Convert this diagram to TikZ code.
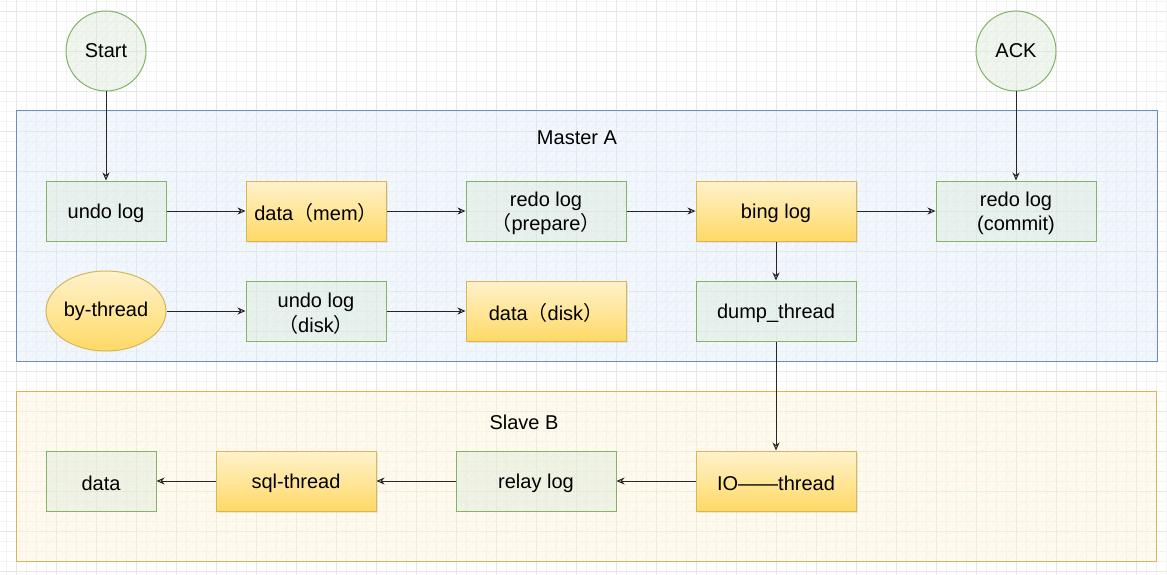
\documentclass[tikz,border=0pt]{standalone}
\usepackage{fontspec}
\setmainfont{Liberation Sans}
\newfontfamily\cjk{Noto Sans CJK SC}
\usetikzlibrary{arrows.meta,shapes.geometric,patterns.meta,shadows}
\newcommand\flp{{\cjk （}}
\newcommand\frp{{\cjk ）}}
\definecolor{gstroke}{HTML}{82B366}
\definecolor{gfill}{HTML}{D5E8D4}
\definecolor{ystroke}{HTML}{D6B656}
\definecolor{ytop}{HTML}{FFF2CC}
\definecolor{ybot}{HTML}{FFD966}
\definecolor{bstroke}{HTML}{6C8EBF}
\definecolor{bfill}{HTML}{DAE8FC}
\definecolor{ostroke}{HTML}{D6B656}
\definecolor{ofill}{HTML}{FFF2CC}
\definecolor{gridminor}{HTML}{F3F3F3}
\definecolor{gridmajor}{HTML}{E6E6E6}
\tikzset{
  every node/.style={font=\fontsize{20}{24.5}\selectfont, text=black, inner sep=0pt},
  hatchfill/.style 2 args={
    preaction={fill=#1, fill opacity=0.35},
    preaction={pattern={Lines[angle=45,distance=6pt,line width=0.5pt]}, pattern color=#2}},
  lowertext/.style={execute at begin node={\rule{0pt}{20pt}}},
  twolines/.style={label={[align=center, yshift=-2.5pt]center:#1}},
  greenbox/.style={rectangle, draw=gstroke, line width=1pt,
    hatchfill={gfill}{gstroke!18}, minimum height=60pt, align=center},
  yellowbox/.style={rectangle, draw=ystroke, line width=1pt,
    top color=ytop, bottom color=ybot, minimum height=60pt, align=center,
    drop shadow={shadow xshift=1.5pt, shadow yshift=-1.5pt, opacity=0.15}},
  greencircle/.style={circle, draw=gstroke, line width=1pt,
    hatchfill={gfill}{gstroke!18}, minimum size=80pt},
  yellowellipse/.style={ellipse, draw=ystroke, line width=1pt, top color=ytop, bottom color=ybot,
    minimum width=120pt, minimum height=80pt},
  conn/.style={draw=black!85, line width=1pt, -{Stealth[open,length=8pt,width=7pt,inset=2.5pt]}},
  panel/.style={line width=1pt},
}
\begin{document}
\begin{tikzpicture}[x=1pt,y=-1pt]
\useasboundingbox (0,0) rectangle (1167,575);
\fill[white] (0,0) rectangle (1167,575);
% grid
\foreach \x in {6,16,...,1166} \draw[gridminor, line width=0.6pt] (\x,0) -- (\x,575);
\foreach \y in {1,11,...,571} \draw[gridminor, line width=0.6pt] (0,\y) -- (1167,\y);
\foreach \x in {16,56,...,1166} \draw[gridmajor, line width=0.8pt] (\x,0) -- (\x,575);
\foreach \y in {11,51,...,571} \draw[gridmajor, line width=0.8pt] (0,\y) -- (1167,\y);
% panels
\path[panel, draw=bstroke, hatchfill={bfill}{bstroke!12}] (16,111) rectangle (1157,361);
\path[panel, draw=ostroke, hatchfill={ofill}{ostroke!12}] (16,391) rectangle (1156,561);
\node (mastera) at (577,138) {Master A};
\node (slaveb) at (524,422) {Slave B};
% circles
\node[greencircle] (start) at (106,51) {Start};
\node[greencircle] (ack) at (1016,51) {ACK};
% row 1
\node[greenbox, lowertext, minimum width=120pt] (undo) at (106,211) {undo log};
\node[yellowbox, lowertext, minimum width=140pt] (datamem) at (316,211) {data\flp mem\frp};
\node[greenbox, minimum width=160pt, twolines={redo log\\\flp prepare\frp}] (redop) at (546,211) {};
\node[yellowbox, lowertext, minimum width=160pt] (bing) at (776,211) {bing log};
\node[greenbox, minimum width=160pt, twolines={redo log\\(commit)}] (redoc) at (1016,211) {};
% row 2
\node[yellowellipse] (bythread) at (106,311) {by-thread};
\node[greenbox, minimum width=140pt, twolines={undo log\\\flp disk\frp}] (undod) at (316,311) {};
\node[yellowbox, lowertext, minimum width=160pt] (datad) at (546,311) {data\flp disk\frp};
\node[greenbox, lowertext, minimum width=160pt] (dump) at (776,311) {dump\_thread};
% row 3
\node[greenbox, lowertext, minimum width=110pt] (data) at (101,481) {data};
\node[yellowbox, lowertext, minimum width=160pt] (sql) at (296,481) {sql-thread};
\node[greenbox, lowertext, minimum width=160pt] (relay) at (536,481) {relay log};
\node[yellowbox, lowertext, minimum width=160pt] (io) at (776,481) {IO——thread};
% connectors
\draw[conn] (start) -- (undo);
\draw[conn] (ack) -- (redoc);
\draw[conn] (undo) -- (datamem);
\draw[conn] (datamem) -- (redop);
\draw[conn] (redop) -- (bing);
\draw[conn] (bing) -- (redoc);
\draw[conn] (bing) -- (dump);
\draw[conn] (bythread) -- (undod);
\draw[conn] (undod) -- (datad);
\draw[conn] (dump) -- (io);
\draw[conn] (io) -- (relay);
\draw[conn] (relay) -- (sql);
\draw[conn] (sql) -- (data);
\end{tikzpicture}
\end{document}
